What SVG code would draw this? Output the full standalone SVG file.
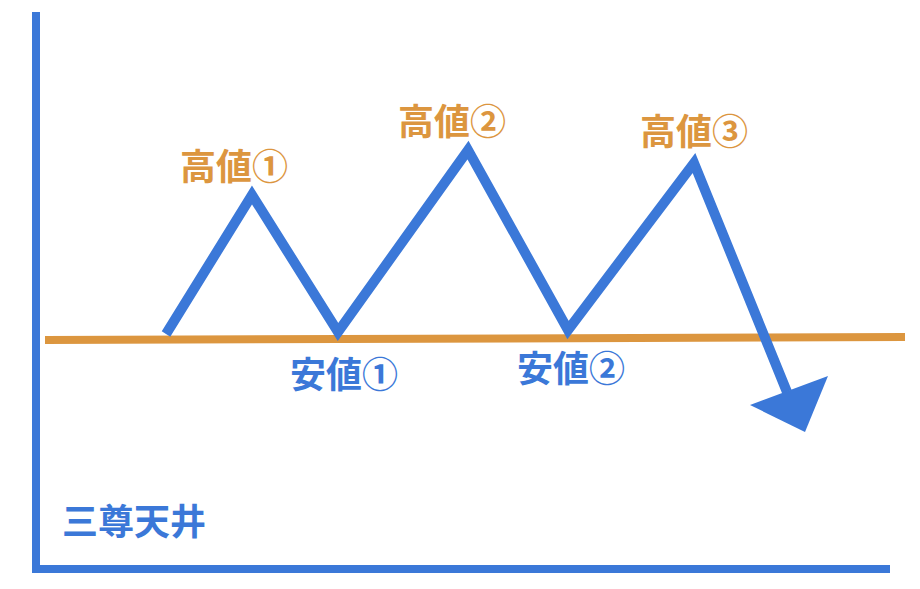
<svg xmlns="http://www.w3.org/2000/svg" width="920" height="589" viewBox="0 0 920 589">
<style>
.b{fill:none;stroke:#3b78d8;stroke-linejoin:miter}
.t{font-family:"Liberation Sans","Noto Sans CJK JP",sans-serif;font-weight:bold;font-size:36px}
.o{fill:#dc963f}.bl{fill:#3b78d8}
</style>
<rect width="920" height="589" fill="#fff"/>
<g id="axes">
<line class="b" x1="36" y1="12" x2="36" y2="573" stroke-width="8"/>
<line class="b" x1="32" y1="569" x2="890" y2="569" stroke-width="8"/>
</g>
<g id="connectors">
<line x1="45" y1="340" x2="905" y2="337" stroke="#dc963f" stroke-width="8"/>
<polyline class="b" stroke-width="10" points="166,334 252,195 338,332 468,150 568,330 694,163 787,392"/>
<polygon class="bl" points="750,405 828,376 805,432"/>
</g>
<g id="labels">
<text class="t o" x="180" y="180">高値①</text>
<text class="t o" x="398" y="135">高値②</text>
<text class="t o" x="640" y="145">高値③</text>
<text class="t bl" x="290" y="388">安値①</text>
<text class="t bl" x="517" y="382">安値②</text>
<text class="t bl" x="62" y="535">三尊天井</text>
</g>
</svg>
